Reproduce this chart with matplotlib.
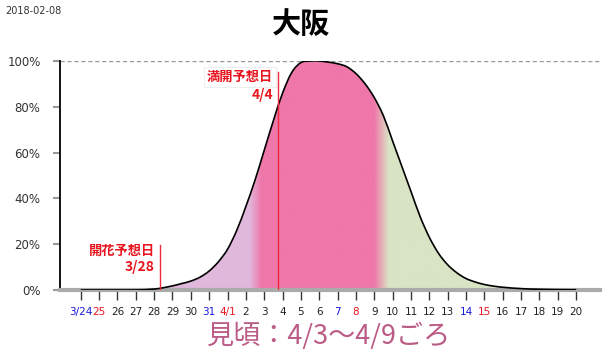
import numpy as np
import matplotlib
matplotlib.use("Agg")
import matplotlib.pyplot as plt
from matplotlib.colors import to_rgb
from matplotlib.path import Path
from matplotlib.patches import PathPatch

plt.rcParams['font.family'] = ['Noto Sans CJK JP', 'DejaVu Sans']

# data
date_stamp = "2018-02-08"
city = "大阪"
day_labels = ["3/24", "25", "26", "27", "28", "29", "30", "31", "4/1", "2", "3", "4",
              "5", "6", "7", "8", "9", "10", "11", "12", "13", "14", "15", "16",
              "17", "18", "19", "20"]
label_colors = {"3/24": "#1a1adc", "31": "#1a1adc", "7": "#1a1adc", "14": "#1a1adc",
                "25": "#e8141e", "4/1": "#e8141e", "8": "#e8141e", "15": "#e8141e"}
# bloom ratio (%), days counted from 3/24
curve_x = [0, 1, 2, 3, 4, 4.5, 5, 5.5, 6, 6.5, 7, 7.5, 8, 8.5, 9, 9.5, 10, 10.5, 11, 11.5,
           12, 12.5, 13, 13.5, 14, 14.5, 15, 15.5, 16, 16.5, 17, 17.5, 18, 18.5, 19, 19.5,
           20, 20.5, 21, 21.5, 22, 22.5, 23, 24, 25, 26, 27]
curve_y = [0, 0, 0, 0, 0.4, 1, 1.8, 2.8, 3.9, 5.6, 8.3, 12.3, 17.8, 26, 36.5, 48, 61, 74, 86, 95,
           99.3, 100, 100, 99.5, 98.8, 97.5, 94.5, 90, 84, 76, 65, 54, 43, 32, 23, 16,
           11, 7.5, 5, 3.5, 2.4, 1.7, 1.2, 0.6, 0.3, 0.15, 0.1]
bloom_day = 4.33      # 開花予想日 3/28
full_day = 10.76      # 満開予想日 4/4
bloom_text = ["開花予想日", "3/28"]
full_text = ["満開予想日", "4/4"]
mikoro_text = "見頃：4/3〜4/9ごろ"
# colour band edges (days from 3/24)
band_days = [9.2, 9.85, 16.0, 16.8]

purple = to_rgb("#e0b8dc")
pink = to_rgb("#ef77a9")
green = to_rgb("#d9e4c5")


def smooth_path(xs, ys, closed=False):
    # cubic bezier segments through the points (catmull-rom style handles)
    p = np.column_stack([xs, ys]).astype(float)
    verts = [p[0]]
    codes = [Path.MOVETO]
    n = len(p)
    for i in range(n - 1):
        p0 = p[max(i - 1, 0)]
        p1, p2 = p[i], p[i + 1]
        p3 = p[min(i + 2, n - 1)]
        h = p2[0] - p1[0]
        t1 = (p2 - p0) / (p2[0] - p0[0]) * h if p2[0] != p0[0] else p2 - p1
        t2 = (p3 - p1) / (p3[0] - p1[0]) * h if p3[0] != p1[0] else p2 - p1
        c1 = p1 + t1 / 3
        c2 = p2 - t2 / 3
        c1[1] = max(c1[1], 0)
        c2[1] = max(c2[1], 0)
        verts += [c1, c2, p2]
        codes += [Path.CURVE4] * 3
    if closed:
        verts += [[p[-1][0], 0], [p[0][0], 0], [p[0][0], 0]]
        codes += [Path.LINETO, Path.LINETO, Path.CLOSEPOLY]
    return Path(np.array(verts), codes)


fig = plt.figure(figsize=(6.15, 3.61), dpi=100)
ax = fig.add_axes([60 / 615, 71 / 361, 540 / 615, 229 / 361])
xmin, xmax = -1.13, 28.3
ax.set_xlim(xmin, xmax)
ax.set_ylim(0, 100)

# gradient fill under the curve
gx = np.linspace(xmin, xmax, 800)
stops = [xmin, band_days[0], band_days[1], band_days[2], band_days[3], xmax]
cols = [purple, purple, pink, pink, green, green]
img = np.zeros((2, len(gx), 3))
for c in range(3):
    img[:, :, c] = np.interp(gx, stops, [col[c] for col in cols])
im = ax.imshow(img, extent=[xmin, xmax, 0, 100], aspect='auto', origin='lower', zorder=1)
im.set_clip_path(smooth_path(curve_x, curve_y, closed=True), transform=ax.transData)

ax.add_patch(PathPatch(smooth_path(curve_x, curve_y), facecolor='none',
                       edgecolor='black', lw=1.2, zorder=4))
ax.axhline(100, color='#999999', lw=1, ls=(0, (3, 2)), zorder=2)

# forecast lines and labels
ax.plot([bloom_day, bloom_day], [0, 19.6], color='#ee2a3a', lw=1, zorder=5)
ax.plot([full_day, full_day], [0, 95], color='#ee2a3a', lw=1, zorder=5)
ax.text(bloom_day - 0.28, 17, bloom_text[0], color='#e8141e', fontsize=9.5,
        fontweight='bold', ha='right', va='center', zorder=6)
ax.text(bloom_day - 0.28, 10, bloom_text[1], color='#e8141e', fontsize=10,
        fontweight='bold', ha='right', va='center', zorder=6)
ax.text(full_day - 0.28, 93, full_text[0], color='#e8141e', fontsize=9.5,
        fontweight='bold', ha='right', va='center', zorder=6,
        bbox=dict(facecolor='white', edgecolor='#eeeeee', pad=2, lw=0.8))
ax.text(full_day - 0.28, 85, full_text[1], color='#e8141e', fontsize=10,
        fontweight='bold', ha='right', va='center', zorder=6)

# axes styling
for s in ['top', 'right']:
    ax.spines[s].set_visible(False)
ax.spines['left'].set_color('black')
ax.spines['left'].set_linewidth(1.3)
ax.spines['bottom'].set_color('#aaaaaa')
ax.spines['bottom'].set_linewidth(3)
ax.spines['bottom'].set_zorder(3)

ax.set_yticks(range(0, 101, 20))
ax.set_yticklabels([f"{v}%" for v in range(0, 101, 20)], family='DejaVu Sans',
                   fontsize=8.5, color='#333333')
ax.tick_params(axis='y', length=5, width=1.5, color='#999999', pad=9)

ax.set_xticks(range(len(day_labels)))
ax.set_xticklabels(day_labels, family='DejaVu Sans', fontsize=7.5)
for lab in ax.get_xticklabels():
    lab.set_color(label_colors.get(lab.get_text(), '#222222'))
ax.tick_params(axis='x', length=7, width=1, color='#333333', pad=5)

fig.text(5 / 615, 1 - 11 / 361, date_stamp, family='DejaVu Sans', fontsize=7,
         color='#333333', ha='left', va='center')
fig.text(301 / 615, 1 - 24 / 361, city, fontsize=21, fontweight='bold',
         ha='center', va='center')
fig.text(329 / 615, 1 - 336 / 361, mikoro_text, fontsize=19.5, color='#bb5c86',
         ha='center', va='center')

fig.savefig('out.png', dpi=100)
